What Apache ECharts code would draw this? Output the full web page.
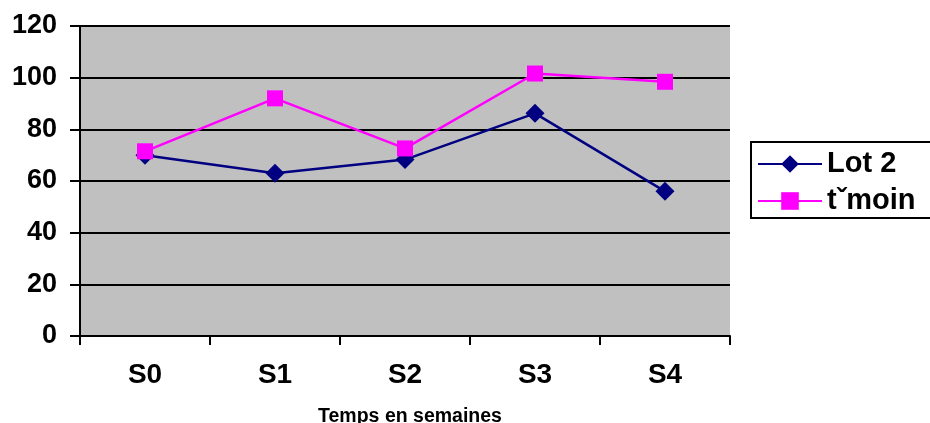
<!DOCTYPE html>
<html>
<head>
<meta charset="utf-8">
<script src="https://cdn.jsdelivr.net/npm/echarts@6/dist/echarts.min.js"></script>
<style>
html,body{margin:0;padding:0;background:#fff;}
#c{width:930px;height:423px;}
</style>
</head>
<body>
<div id="c"></div>
<script>
var categories = ['S0', 'S1', 'S2', 'S3', 'S4'];
var lot2 = [70, 63, 68.3, 86.2, 56];
var temoin = [71.5, 92, 72.6, 101.6, 98.4];
var yTicks = [0, 20, 40, 60, 80, 100, 120];
var seriesNames = ['Lot 2', 'tˇmoin'];
var xAxisTitle = 'Temps en semaines';

var FONT = '"Liberation Sans", Arial, sans-serif';
var chart = echarts.init(document.getElementById('c'), null, {renderer: 'canvas'});
chart.setOption({
  animation: false,
  backgroundColor: '#ffffff',
  grid: {
    left: 80, right: 200, top: 26, bottom: 87,
    show: true, backgroundColor: '#c0c0c0', borderWidth: 0,
    containLabel: false, outerBoundsMode: 'none'
  },
  legend: {
    orient: 'vertical',
    left: 751, top: 142,
    padding: [7, 40, 2, 6],
    itemGap: 7,
    itemWidth: 64,
    itemHeight: 22,
    borderColor: '#000', borderWidth: 2,
    data: seriesNames,
    textStyle: {fontFamily: FONT, fontWeight: 'bold', fontSize: 29, color: '#000', lineHeight: 30}
  },
  xAxis: {
    type: 'category',
    data: categories,
    boundaryGap: true,
    name: xAxisTitle,
    nameLocation: 'middle',
    nameGap: 71,
    nameTextStyle: {fontFamily: FONT, fontWeight: 'bold', fontSize: 19.5, color: '#000', padding: [0, 0, 0, 10]},
    axisLine: {show: true, onZero: false, lineStyle: {color: '#000', width: 2}},
    axisTick: {show: true, alignWithLabel: false, length: 9, lineStyle: {color: '#000', width: 2}},
    axisLabel: {fontFamily: FONT, fontWeight: 'bold', fontSize: 28, color: '#000', margin: 25},
    splitLine: {show: false}
  },
  yAxis: {
    type: 'value',
    min: yTicks[0], max: yTicks[yTicks.length - 1], interval: 20,
    axisLine: {show: true, lineStyle: {color: '#000', width: 2}},
    axisTick: {show: true, length: 10, lineStyle: {color: '#000', width: 2}},
    axisLabel: {fontFamily: FONT, fontWeight: 'bold', fontSize: 27, color: '#000', margin: 23},
    splitLine: {show: true, lineStyle: {color: '#000', width: 2}}
  },
  series: [
    {
      name: seriesNames[0], type: 'line', data: lot2,
      symbol: 'diamond', symbolSize: 19,
      itemStyle: {color: '#000080'},
      lineStyle: {color: '#000080', width: 2.5}
    },
    {
      name: seriesNames[1], type: 'line', data: temoin,
      symbol: 'rect', symbolSize: 16,
      itemStyle: {color: '#ff00ff'},
      lineStyle: {color: '#ff00ff', width: 2.5}
    }
  ]
});
</script>
</body>
</html>
